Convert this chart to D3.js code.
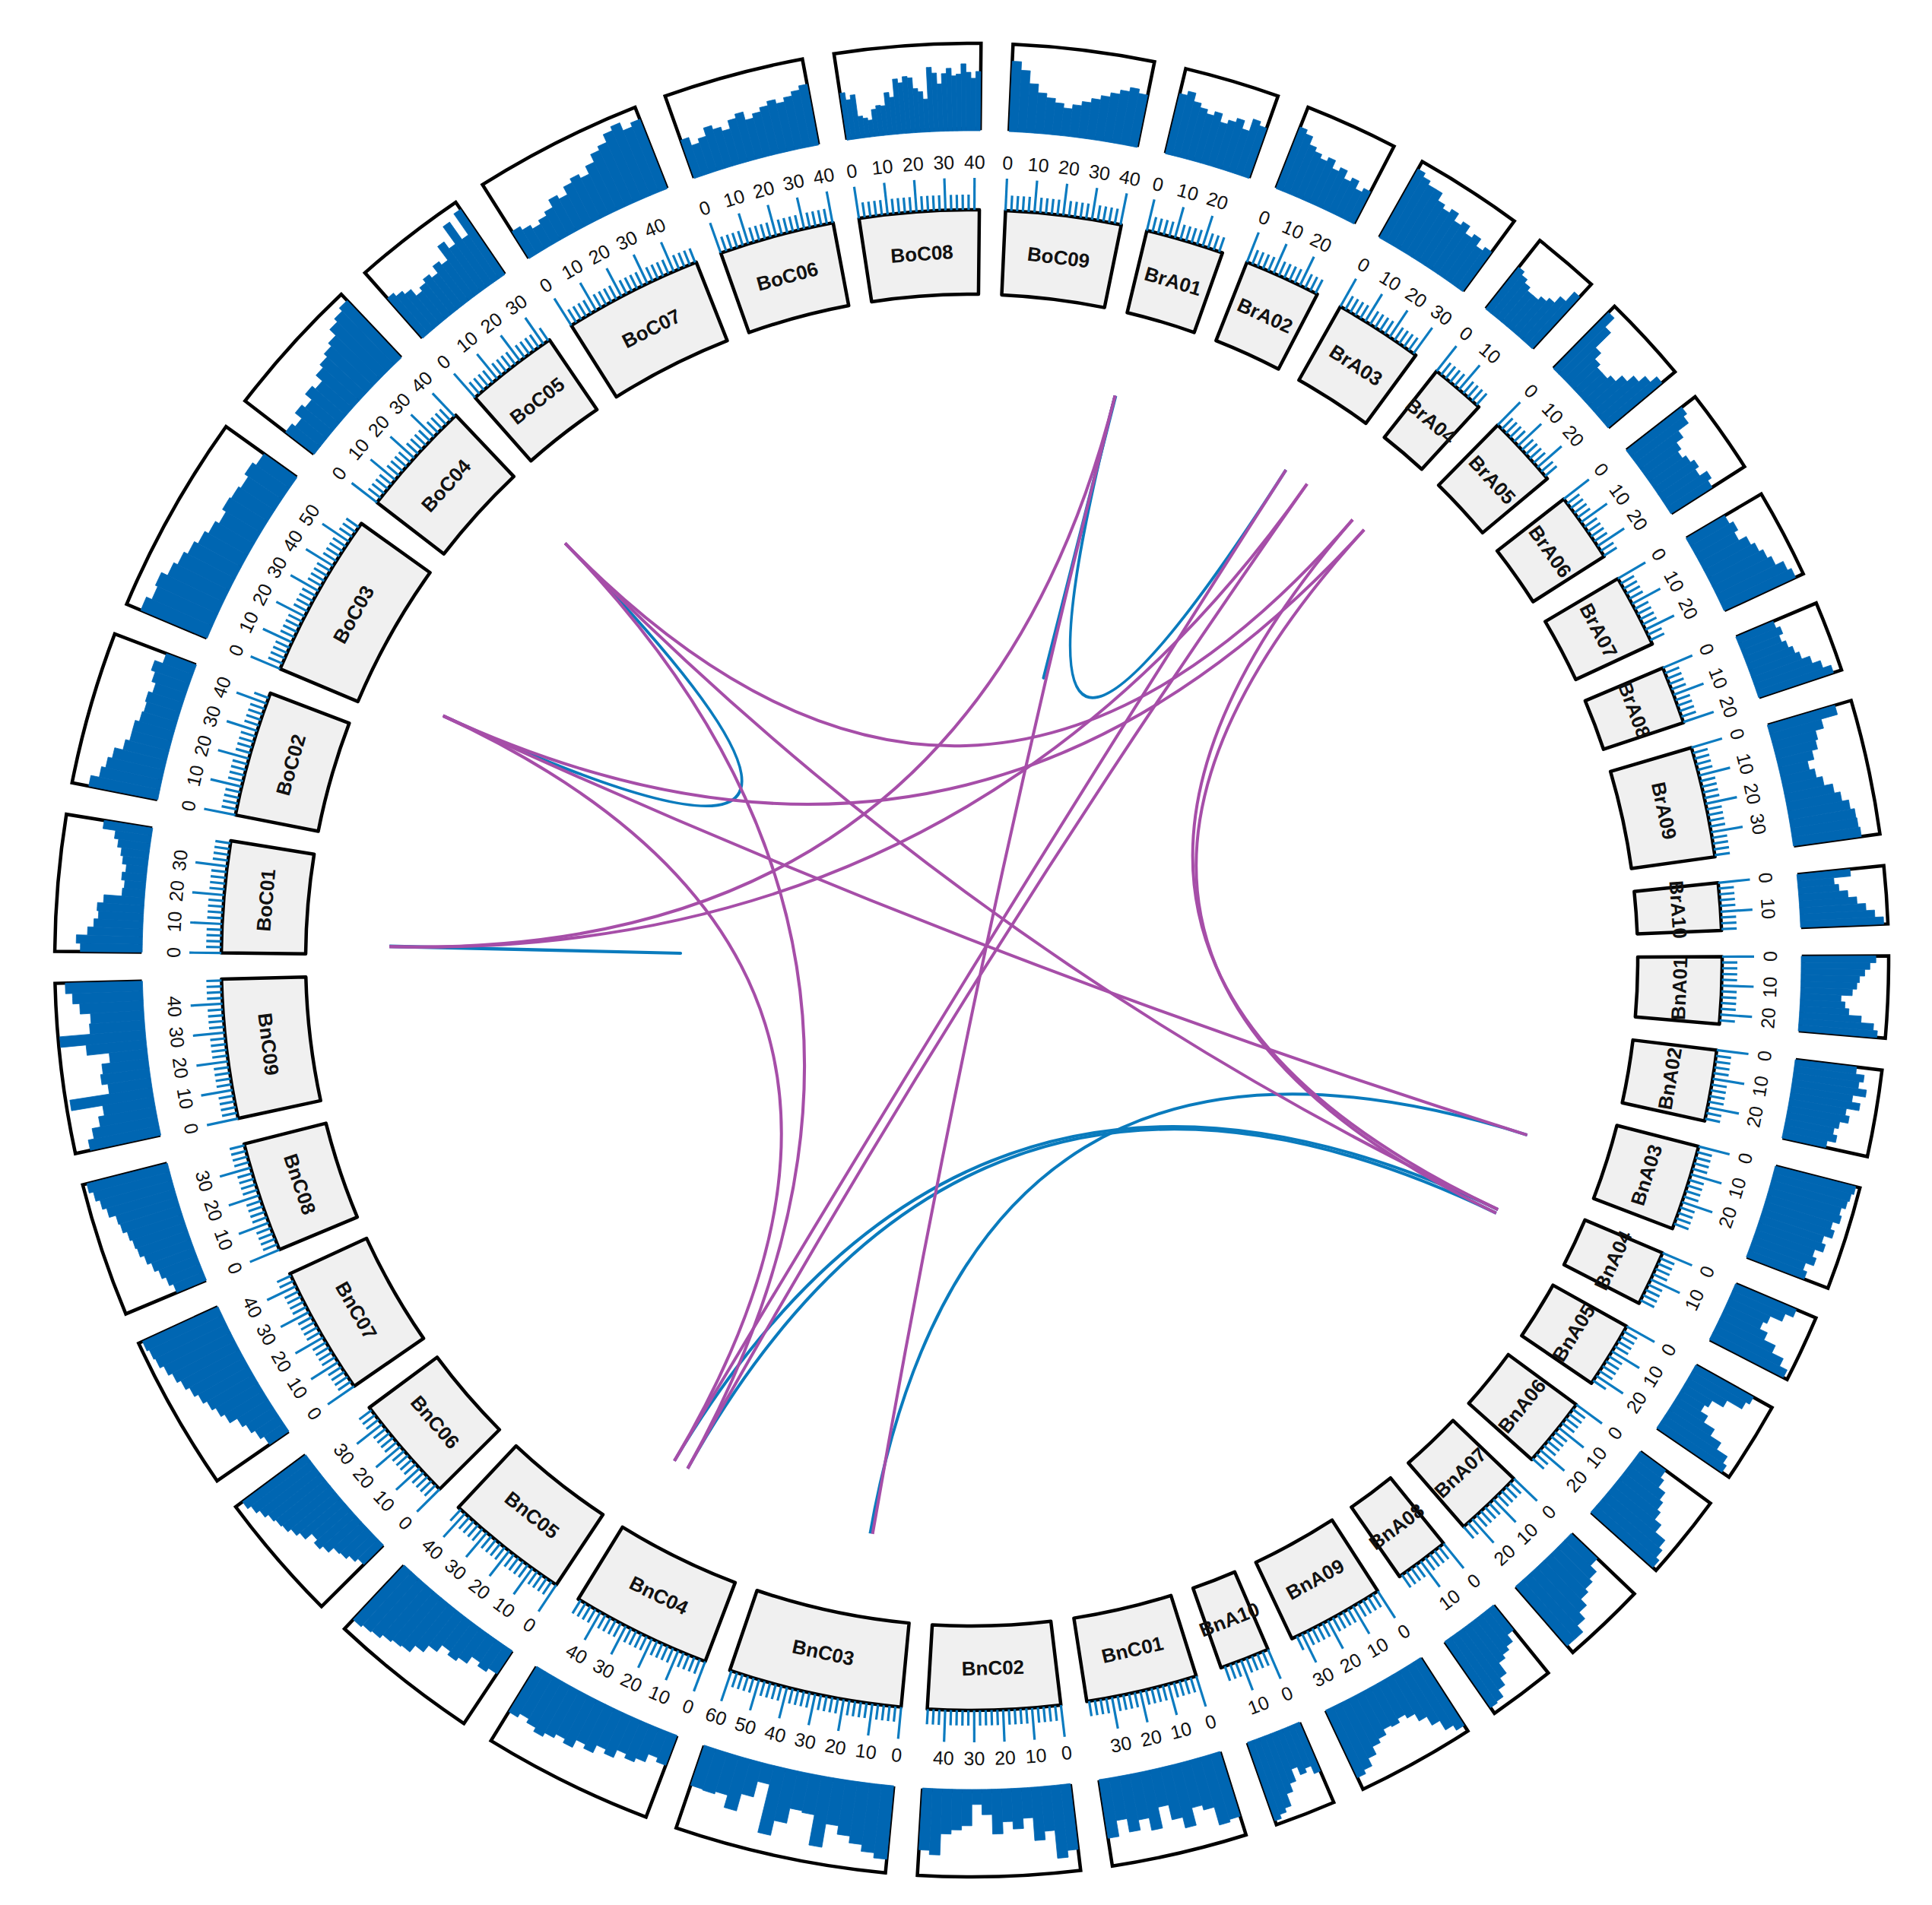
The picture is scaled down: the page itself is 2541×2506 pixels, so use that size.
<!DOCTYPE html>
<html><head><meta charset="utf-8">
<script src="https://cdn.jsdelivr.net/npm/d3@7"></script>
<style>body{margin:0;background:#fff}</style>
</head><body>
<svg id="c" width="2541" height="2506"></svg>
<script>
// ---------------- data ----------------
const chromNames = ["BrA01","BrA02","BrA03","BrA04","BrA05","BrA06","BrA07","BrA08","BrA09","BrA10",
  "BnA01","BnA02","BnA03","BnA04","BnA05","BnA06","BnA07","BnA08","BnA09","BnA10",
  "BnC01","BnC02","BnC03","BnC04","BnC05","BnC06","BnC07","BnC08","BnC09",
  "BoC01","BoC02","BoC03","BoC04","BoC05","BoC07","BoC06","BoC08","BoC09"];
const chromLengths = [27.2,26.7,31.0,19.1,25.2,24.2,25.5,20.2,38.6,16.5,
  23.3,24.8,29.8,19.2,23.1,24.4,24.0,19.0,33.9,17.4,
  38.8,46.2,60.6,48.9,43.1,37.2,44.8,38.5,48.5,
  38.9,43.8,57.6,40.6,32.5,48.4,40.2,41.7,40.3];
const flippedGroup = ["Bn"];   // label orientation group

// histogram track (fraction of track height), in order along each chromosome
const hBrA01 = [0.7,0.75,0.65,0.6,0.55,0.6,0.5,0.55,0.6,0.5,0.65,0.6];
const hBrA02 = [0.75,0.7,0.6,0.55,0.5,0.55,0.45,0.5,0.4,0.45,0.35,0.4];
const hBrA03 = [0.9,0.85,0.8,0.8,0.7,0.65,0.7,0.6,0.65,0.55,0.6,0.5,0.55];
const hBrA04 = [0.6,0.55,0.5,0.45,0.45,0.5,0.55,0.65,0.8];
const hBrA05 = [0.9,0.75,0.5,0.4,0.35,0.35,0.4,0.5,0.6,0.7,0.8];
const hBrA06 = [0.8,0.75,0.6,0.5,0.45,0.5,0.55,0.5,0.6,0.55];
const hBrA07 = [0.5,0.55,0.5,0.6,0.65,0.7,0.75,0.85,0.9];
const hBrA08 = [0.45,0.5,0.45,0.5,0.55,0.6,0.7,0.8,0.9];
const hBrA09 = [0.8,0.6,0.5,0.47,0.4,0.32,0.38,0.45,0.55,0.62,0.7,0.75,0.76,0.78];
const hBrA10 = [0.6,0.4,0.45,0.55,0.65,0.75,0.85,0.95];
const hBnA01 = [0.85,0.78,0.72,0.66,0.63,0.58,0.45,0.5,0.55,0.7,0.85,0.9];
const hBnA02 = [0.7,0.8,0.75,0.85,0.7,0.8,0.65,0.7,0.6,0.55,0.6,0.5];
const hBnA03 = [0.95,0.92,0.9,0.85,0.88,0.8,0.85,0.75,0.8,0.7,0.75,0.65,0.7];
const hBnA04 = [0.75,0.65,0.5,0.45,0.55,0.7,0.85,0.95];
const hBnA05 = [0.75,0.7,0.5,0.35,0.3,0.4,0.55,0.7,0.85,0.9];
const hBnA06 = [0.35,0.4,0.5,0.55,0.6,0.7,0.85,0.9,0.95];
const hBnA07 = [0.4,0.5,0.55,0.6,0.7,0.8,0.9,0.9];
const hBnA08 = [0.35,0.45,0.5,0.55,0.7,0.8,0.9,0.92];
const hBnA09 = [0.92,0.85,0.72,0.6,0.5,0.45,0.5,0.48,0.55,0.6,0.7,0.8,0.85];
const hBnA10 = [0.6,0.5,0.55,0.45,0.6,0.7,0.85,0.9,0.95];
const hBnC01 = [0.77,0.8,0.58,0.52,0.73,0.6,0.42,0.67,0.52,0.64,0.48,0.67];
const hBnC02 = [0.75,0.83,0.5,0.6,0.33,0.45,0.36,0.5,0.27,0.15,0.4,0.45,0.5,0.75,0.7];
const hBnC03 = [0.84,0.78,0.7,0.62,0.52,0.8,0.44,0.42,0.6,0.78,0.2,0.39,0.6,0.45,0.48,0.47];
const hBnC04 = [0.35,0.3,0.4,0.45,0.4,0.5,0.45,0.55,0.5,0.6,0.55,0.6,0.65,0.6,0.55,0.6];
const hBnC05 = [0.3,0.35,0.3,0.4,0.45,0.4,0.5,0.6,0.7,0.72,0.75,0.8,0.82,0.85];
const hBnC06 = [0.3,0.35,0.4,0.42,0.5,0.55,0.5,0.6,0.65,0.7,0.72,0.75,0.8,0.85,0.9];
const hBnC07 = [0.25,0.3,0.35,0.4,0.5,0.55,0.6,0.65,0.7,0.75,0.8,0.85,0.9,0.92,0.95];
const hBnC08 = [0.35,0.4,0.45,0.5,0.55,0.6,0.62,0.65,0.7,0.72,0.8,0.85,0.9,0.95];
const hBnC09 = [0.82,0.75,0.65,0.58,0.95,0.48,0.55,0.52,0.42,0.68,0.98,0.62,0.6,0.72,0.8,0.88];
const hBoC01 = [0.7,0.75,0.62,0.55,0.5,0.52,0.45,0.24,0.22,0.26,0.22,0.27,0.3,0.35,0.4,0.55];
const hBoC02 = [0.8,0.7,0.65,0.6,0.5,0.45,0.45,0.4,0.38,0.4,0.35,0.4,0.45,0.35];
const hBoC03 = [0.82,0.75,0.78,0.7,0.65,0.6,0.55,0.5,0.45,0.5,0.48,0.45,0.5,0.45];
const hBoC04 = [0.4,0.35,0.45,0.4,0.5,0.45,0.55,0.6,0.65,0.7,0.8,0.85,0.9];
const hBoC05 = [0.6,0.55,0.5,0.4,0.45,0.5,0.45,0.55,0.5,0.7,0.6,0.85,0.6,0.9];
const hBoC07 = [0.35,0.3,0.25,0.3,0.35,0.45,0.4,0.5,0.55,0.5,0.6,0.7,0.75,0.85,0.9,0.8,0.85];
const hBoC06 = [0.45,0.35,0.4,0.5,0.45,0.4,0.5,0.55,0.45,0.5,0.55,0.6,0.55,0.6,0.65,0.7];
const hBoC08 = [0.53,0.44,0.49,0.23,0.2,0.17,0.29,0.33,0.32,0.47,0.41,0.62,0.57,0.64,0.62,0.49,0.45,0.36,0.73,0.66,0.53,0.65,0.71,0.62,0.64,0.76,0.66,0.59,0.67];
const hBoC09 = [0.8,0.7,0.55,0.45,0.4,0.35,0.3,0.35,0.4,0.45,0.5,0.55,0.6,0.65,0.6];
const histByChrom = [hBrA01,hBrA02,hBrA03,hBrA04,hBrA05,hBrA06,hBrA07,hBrA08,hBrA09,hBrA10,
  hBnA01,hBnA02,hBnA03,hBnA04,hBnA05,hBnA06,hBnA07,hBnA08,hBnA09,hBnA10,
  hBnC01,hBnC02,hBnC03,hBnC04,hBnC05,hBnC06,hBnC07,hBnC08,hBnC09,
  hBoC01,hBoC02,hBoC03,hBoC04,hBoC05,hBoC07,hBoC06,hBoC08,hBoC09];

// links: chromosome / position (Mb) of both ends, and type (b = blue, p = purple)
const linkChr1 = ["BoC01","BrA01","BoC04","BrA01","BnA03","BnA04","BnA04",
                  "BrA01","BrA03","BrA03","BrA04","BrA04","BoC04","BoC04","BoC03","BoC01","BrA01","BoC04","BoC03","BoC03"];
const linkPos1 = [3.5,3.4,36.8,3.4,14.0,10.8,12.6,
                  3.4,14.6,25.9,11.6,18.4,36.8,36.8,8.9,3.5,3.4,36.8,8.9,8.9];
const linkChr2 = ["BoC01","BrA01","BoC03","BrA03","BnC03","BnC04","BnC04",
                  "BnC03","BnC04","BnC04","BnA04","BnA04","BrA04","BnA04","BnA03","BrA03","BoC01","BnC04","BnC04","BrA04"];
const linkPos2 = [3.8,3.7,8.9,14.6,21.0,44.7,37.9,
                  19.9,44.7,37.9,10.8,12.6,11.6,10.8,14.0,25.9,3.5,37.9,44.7,18.4];
const linkType = ["b","b","b","b","b","b","b",
                  "p","p","p","p","p","p","p","p","p","p","p","p","p"];

// ---------------- layout ----------------
const CX = 1278, CY = 1263;
const GAP = 2.0, START = 13.5;
const R_LINK = 766, R_BOX_IN = 876, R_BOX_OUT = 987;
const R_HIST_IN = 1094, R_HIST_OUT = 1206;
const TICK_MAJOR = 42, TICK_MINOR = 20, R_TICKLAB = 1050;
const COL = {hist:"#0066B2", tick:"#0C7BC0", p:"#A64EA8", b:"#0A7BBD", box:"#F0F0F0"};
const FONT = "'Liberation Sans', Arial, Helvetica, sans-serif";

const rad = d => d * Math.PI / 180;
const N = chromNames.length;
const degPerMb = (360 - GAP * N) / d3.sum(chromLengths);
const chroms = [];
let cur = START;
chromNames.forEach((name, i) => {
  const len = chromLengths[i];
  const s = cur, e = cur + len * degPerMb;
  chroms.push({name, len, s, e, hist: histByChrom[i],
    flip: flippedGroup.some(g => name.startsWith(g)),
    scale: d3.scaleLinear().domain([0, len]).range([rad(s), rad(e)])});
  cur = e + GAP;
});
const byName = Object.fromEntries(chroms.map(c => [c.name, c]));
const pt = (r, a) => [CX + r * Math.sin(a), CY - r * Math.cos(a)];

const svg = d3.select("#c");
svg.append("rect").attr("width", 2541).attr("height", 2506).attr("fill", "#fff");
const g = svg.append("g").attr("transform", `translate(${CX},${CY})`);
const arc = d3.arc();

// links (quadratic bezier with control point at the centre)
linkChr1.forEach((c1, i) => {
  const p0 = pt(R_LINK, byName[c1].scale(linkPos1[i]));
  const p2 = pt(R_LINK, byName[linkChr2[i]].scale(linkPos2[i]));
  svg.append("path").attr("d", `M${p0[0]},${p0[1]}Q${CX},${CY} ${p2[0]},${p2[1]}`)
    .attr("fill", "none").attr("stroke", COL[linkType[i]]).attr("stroke-width", 4);
});

// chromosome boxes
chroms.forEach(c => {
  g.append("path").attr("d", arc({innerRadius: R_BOX_IN, outerRadius: R_BOX_OUT,
      startAngle: rad(c.s), endAngle: rad(c.e)}))
    .attr("fill", COL.box).attr("stroke", "#000").attr("stroke-width", 4.5)
    .attr("stroke-linejoin", "round");
});

// ticks + tick labels
chroms.forEach(c => {
  const ticks = d3.range(0, c.len + 1e-9, 2);
  ticks.forEach(v => {
    const a = c.scale(v);
    const major = Math.abs(v % 10) < 1e-9;
    const p0 = pt(R_BOX_OUT, a), p1 = pt(R_BOX_OUT + (major ? TICK_MAJOR : TICK_MINOR), a);
    svg.append("line").attr("x1", p0[0]).attr("y1", p0[1]).attr("x2", p1[0]).attr("y2", p1[1])
      .attr("stroke", COL.tick).attr("stroke-width", 3.2);
    if (major) {
      const p = pt(R_TICKLAB, a);
      const deg = a * 180 / Math.PI + (c.flip ? 180 : 0);
      svg.append("text").attr("transform", `translate(${p[0]},${p[1]}) rotate(${deg})`)
        .attr("text-anchor", "middle").attr("dominant-baseline", "central")
        .attr("font-family", FONT).attr("font-size", 25).attr("fill", "#111")
        .text(d3.format("d")(v));
    }
  });
});

// chromosome labels
chroms.forEach(c => {
  const a = rad((c.s + c.e) / 2);
  const p = pt((R_BOX_IN + R_BOX_OUT) / 2, a);
  const deg = a * 180 / Math.PI + (c.flip ? 180 : 0);
  svg.append("text").attr("transform", `translate(${p[0]},${p[1]}) rotate(${deg})`)
    .attr("text-anchor", "middle").attr("dominant-baseline", "central")
    .attr("font-family", FONT).attr("font-weight", "bold").attr("font-size", 26)
    .attr("fill", "#111").text(c.name);
});

// histogram track
const hScale = d3.scaleLinear().domain([0, 1]).range([R_HIST_IN, R_HIST_OUT]);
chroms.forEach(c => {
  g.append("path").attr("d", arc({innerRadius: R_HIST_IN, outerRadius: R_HIST_OUT,
      startAngle: rad(c.s), endAngle: rad(c.e)}))
    .attr("fill", "none").attr("stroke", "#000").attr("stroke-width", 4.5);
  const n = c.hist.length, bw = c.len / n;
  c.hist.forEach((v, i) => {
    g.append("path").attr("d", arc({innerRadius: R_HIST_IN - 3, outerRadius: hScale(v),
        startAngle: c.scale(i * bw), endAngle: c.scale((i + 1) * bw)}))
      .attr("fill", COL.hist).attr("stroke", COL.hist).attr("stroke-width", 0.8);
  });
});
</script>
</body></html>
